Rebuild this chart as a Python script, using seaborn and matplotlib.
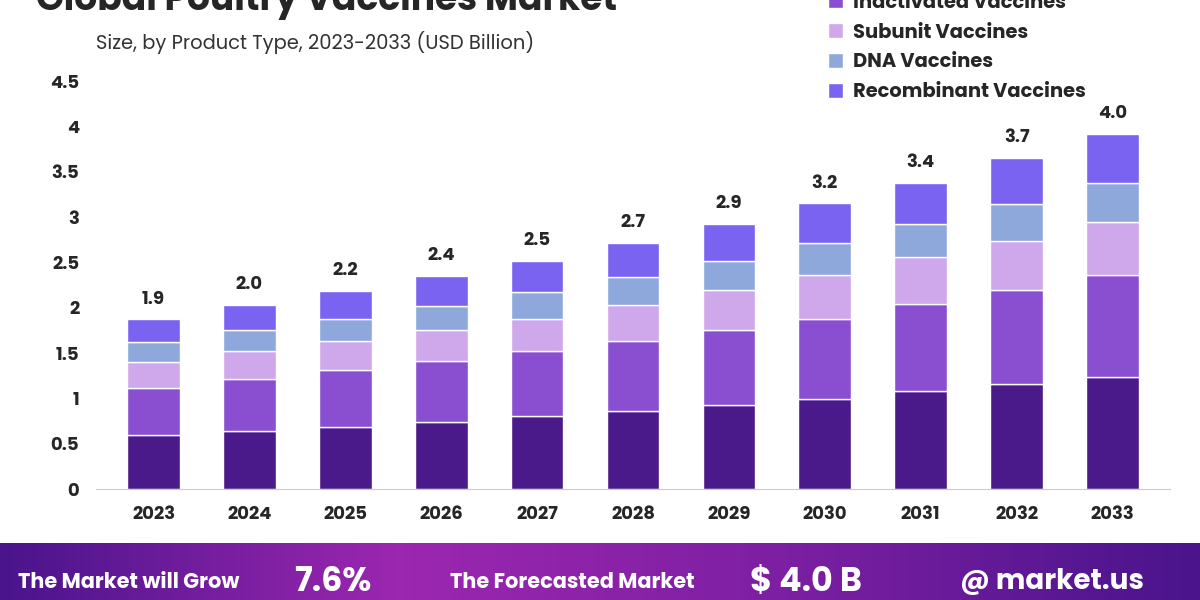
import matplotlib.pyplot as plt
import numpy as np
import pandas as pd
import seaborn as sns
from matplotlib.colors import LinearSegmentedColormap

years = ['2023', '2024', '2025', '2026', '2027', '2028', '2029', '2030', '2031', '2032', '2033']
live_attenuated = [0.60, 0.64, 0.68, 0.74, 0.80, 0.86, 0.93, 0.99, 1.08, 1.16, 1.23]
inactivated = [0.51, 0.57, 0.63, 0.67, 0.72, 0.77, 0.82, 0.89, 0.96, 1.03, 1.13]
subunit = [0.29, 0.31, 0.32, 0.34, 0.36, 0.40, 0.44, 0.48, 0.52, 0.55, 0.59]
dna = [0.22, 0.23, 0.24, 0.27, 0.29, 0.31, 0.32, 0.35, 0.36, 0.40, 0.42]
recombinant = [0.25, 0.28, 0.31, 0.33, 0.35, 0.37, 0.41, 0.44, 0.46, 0.51, 0.55]
totals = ['1.9', '2.0', '2.2', '2.4', '2.5', '2.7', '2.9', '3.2', '3.4', '3.7', '4.0']

series = [
    ('Live Attenuated Vaccines', live_attenuated, '#4b1a8a'),
    ('Inactivated Vaccines', inactivated, '#8a4fd0'),
    ('Subunit Vaccines', subunit, '#cfa8ec'),
    ('DNA Vaccines', dna, '#8fa8dc'),
    ('Recombinant Vaccines', recombinant, '#7b63f2'),
]

sns.set_style("white")
plt.rcParams['font.family'] = ['Poppins', 'Lato', 'DejaVu Sans']

fig = plt.figure(figsize=(12, 6), dpi=100)
ax = fig.add_axes([0.08, 0.185, 0.895, 0.68])

bottom = np.zeros(len(years))
for name, vals, col in series:
    sns.barplot(x=years, y=vals, bottom=bottom, color=col, saturation=1, width=0.55, ax=ax, label=name)
    bottom += np.array(vals)

for i, t in enumerate(totals):
    ax.text(i, bottom[i] + 0.12, t, ha='center', va='bottom', fontsize=13, fontweight='bold')

ax.set_ylim(0, 4.5)
ax.set_xlim(-0.6, 10.6)
ax.set_yticks([0, 0.5, 1, 1.5, 2, 2.5, 3, 3.5, 4, 4.5])
ax.set_yticklabels(['0', '0.5', '1', '1.5', '2', '2.5', '3', '3.5', '4', '4.5'])
ax.tick_params(axis='both', labelsize=13, length=0, pad=12)
for lab in ax.get_xticklabels() + ax.get_yticklabels():
    lab.set_fontweight('bold')
for s in ['top', 'right', 'left']:
    ax.spines[s].set_visible(False)
ax.spines['bottom'].set_color('#cccccc')

handles, labels = ax.get_legend_handles_labels()
if ax.get_legend() is not None:
    ax.get_legend().remove()
leg = fig.legend(handles[1:], labels[1:], loc='upper left', bbox_to_anchor=(0.675, 1.04),
                 frameon=False, fontsize=14, handlelength=0.8, handleheight=0.8,
                 labelspacing=0.55, handletextpad=0.5)
for t in leg.get_texts():
    t.set_fontweight('bold')

fig.text(0.03, 1.0, 'Global Poultry Vaccines Market', fontsize=26, fontweight='bold', va='center')
fig.text(0.08, 0.93, 'Size, by Product Type, 2023-2033 (USD Billion)', fontsize=14, color='#333333', va='center')

# bottom banner
bax = fig.add_axes([0, 0, 1, 0.095])
grad = np.linspace(0, 1, 256).reshape(1, -1)
cm = LinearSegmentedColormap.from_list('b', ['#4a148c', '#9c27b0', '#7b1fa2', '#4a148c'])
bax.imshow(grad, aspect='auto', cmap=cm, extent=[0, 1, 0, 1])
bax.set_axis_off()
bax.text(0.015, 0.3, 'The Market will Grow', color='white', fontsize=15, fontweight='bold', va='center')
bax.text(0.245, 0.3, '7.6%', color='white', fontsize=24, fontweight='bold', va='center')
bax.text(0.375, 0.3, 'The Forecasted Market', color='white', fontsize=15, fontweight='bold', va='center')
bax.text(0.625, 0.3, '$ 4.0 B', color='white', fontsize=24, fontweight='bold', va='center')
bax.text(0.80, 0.3, '@ market.us', color='white', fontsize=20, fontweight='bold', va='center')

plt.savefig('out.png', dpi=100)
